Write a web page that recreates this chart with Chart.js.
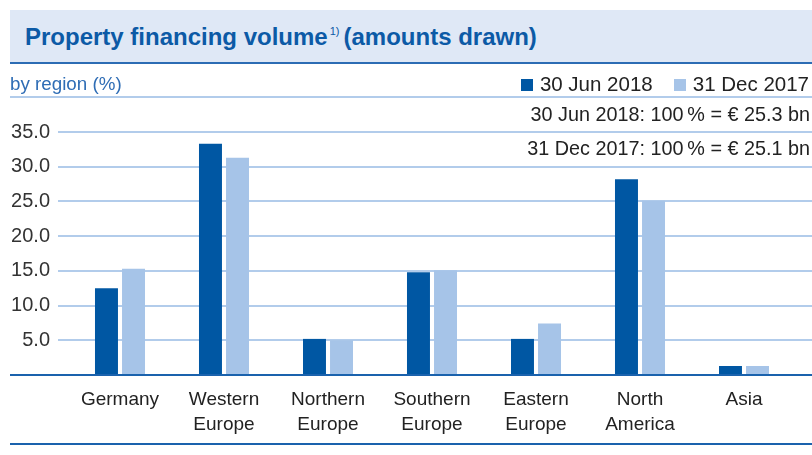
<!DOCTYPE html>
<html>
<head>
<meta charset="utf-8">
<script src="https://cdn.jsdelivr.net/npm/chart.js@4.4.0/dist/chart.umd.min.js"></script>
<style>
  html, body { margin: 0; padding: 0; background: #fff; }
  body { width: 812px; height: 455px; position: relative; overflow: hidden; font-family: "Liberation Sans", Arial, sans-serif; }
  #chart-wrap { position: absolute; left: 0; top: 0; width: 812px; height: 455px; }
  .header { position: absolute; left: 10px; top: 10px; width: 802px; height: 52px; background: #dfe8f6; border-bottom: 2px solid #2c6cb4; }
  .title { position: absolute; left: 15px; top: 13px; font-size: 24px; font-weight: bold; color: #0c5aa6; white-space: nowrap; }
  .title sup { font-size: 11px; font-weight: normal; vertical-align: 10px; margin: 0 4px 0 2px; }
  .sub { position: absolute; left: 10px; top: 73px; font-size: 18.8px; color: #2f6db5; }
  .subline { position: absolute; left: 10px; top: 96px; width: 802px; height: 2px; background: #b2cceb; }
  .legend { position: absolute; right: 3px; top: 72px; font-size: 20.5px; color: #222; white-space: nowrap; }
  .legend span.box { display: inline-block; width: 12px; height: 12px; margin: 0 7px 0 0; vertical-align: 0px; }
  .legend span.item { margin-left: 21px; }
  .note { position: absolute; right: 2px; font-size: 19.8px; color: #222; white-space: nowrap; }
  .bottomline { position: absolute; left: 10px; top: 443px; width: 802px; height: 2px; background: #1a62ad; }
</style>
</head>
<body>
<div id="chart-wrap"><canvas id="bar-chart"></canvas></div>

<div class="header"><div class="title">Property financing volume<sup>1)</sup>(amounts drawn)</div></div>
<div class="sub">by region (%)</div>
<div class="subline"></div>
<div class="legend" id="legend"></div>
<div class="note" id="note1" style="top:103px"></div>
<div class="note" id="note2" style="top:137px"></div>
<div class="bottomline"></div>

<script>
/*--------------------------------
    Data
----------------------------------*/
var regions = [
    "Germany",
    ["Western", "Europe"],
    ["Northern", "Europe"],
    ["Southern", "Europe"],
    ["Eastern", "Europe"],
    ["North", "America"],
    "Asia"
];
var seriesNames = ["30 Jun 2018", "31 Dec 2017"];
var jun2018 = [12.5, 33.3, 5.2, 14.8, 5.2, 28.2, 1.3];
var dec2017 = [15.3, 31.3, 5.0, 15.1, 7.4, 25.1, 1.3];
var totals = ["€ 25.3 bn", "€ 25.1 bn"];
var yTicks = [0, 5, 10, 15, 20, 25, 30, 35];

var darkBlue = "#0057a3";
var lightBlue = "#a6c4e8";
var gridBlue = "#b2cceb";
var axisBlue = "#1a62ad";

/*--------------------------------
    Legend + notes (html)
----------------------------------*/
var legendEl = document.getElementById("legend");
legendEl.innerHTML =
    '<span><span class="box" style="background:' + darkBlue + '"></span>' + seriesNames[0] + '</span>' +
    '<span class="item"><span class="box" style="background:' + lightBlue + '"></span>' + seriesNames[1] + '</span>';
document.getElementById("note1").textContent = seriesNames[0] + ": 100\u2009% = " + totals[0];
document.getElementById("note2").textContent = seriesNames[1] + ": 100\u2009% = " + totals[1];

/*--------------------------------
    Grid lines + axis line plugin
----------------------------------*/
var gridPlugin = {
    id: "gridPlugin",
    beforeDatasetsDraw: function (chart) {
        var ctx = chart.ctx;
        var y = chart.scales.y;
        ctx.save();
        ctx.lineWidth = 2;
        ctx.strokeStyle = gridBlue;
        yTicks.forEach(function (v) {
            if (v === 0) return;
            var py = Math.round(y.getPixelForValue(v));
            ctx.beginPath();
            ctx.moveTo(58, py);
            ctx.lineTo(chart.width, py);
            ctx.stroke();
        });
        ctx.restore();
    },
    afterDatasetsDraw: function (chart) {
        var ctx = chart.ctx;
        var py = Math.round(chart.scales.y.getPixelForValue(0));
        ctx.save();
        ctx.lineWidth = 2;
        ctx.strokeStyle = axisBlue;
        ctx.beginPath();
        ctx.moveTo(10, py);
        ctx.lineTo(chart.width, py);
        ctx.stroke();
        ctx.restore();
    }
};

/*--------------------------------
    Chart
----------------------------------*/
var barChart = new Chart(document.getElementById("bar-chart").getContext("2d"), {
    type: "bar",
    data: {
        labels: regions,
        datasets: [
            {
                label: seriesNames[0],
                data: jun2018,
                backgroundColor: darkBlue,
                categoryPercentage: 0.52,
                barPercentage: 0.85
            },
            {
                label: seriesNames[1],
                data: dec2017,
                backgroundColor: lightBlue,
                categoryPercentage: 0.52,
                barPercentage: 0.85
            }
        ]
    },
    options: {
        responsive: true,
        maintainAspectRatio: false,
        animation: false,
        layout: {
            padding: { top: 132, left: 10, right: 16, bottom: 0 }
        },
        plugins: {
            legend: { display: false },
            tooltip: { enabled: false }
        },
        scales: {
            y: {
                min: 0,
                max: 35,
                afterFit: function (s) { s.width = 58; },
                afterBuildTicks: function (s) {
                    s.ticks = yTicks.map(function (v) { return { value: v }; });
                },
                border: { display: false },
                grid: { display: false, drawTicks: false },
                ticks: {
                    padding: 18,
                    color: "#333",
                    font: { family: "Liberation Sans", size: 20 },
                    callback: function (v) { return v === 0 ? "" : v.toFixed(1); }
                }
            },
            x: {
                afterFit: function (s) { s.height = 80; },
                border: { display: false },
                grid: { display: false, drawTicks: false },
                ticks: {
                    padding: 12,
                    color: "#222",
                    maxRotation: 0,
                    autoSkip: false,
                    font: { family: "Liberation Sans", size: 19, lineHeight: 1.33 }
                }
            }
        }
    },
    plugins: [gridPlugin]
});
</script>
</body>
</html>
